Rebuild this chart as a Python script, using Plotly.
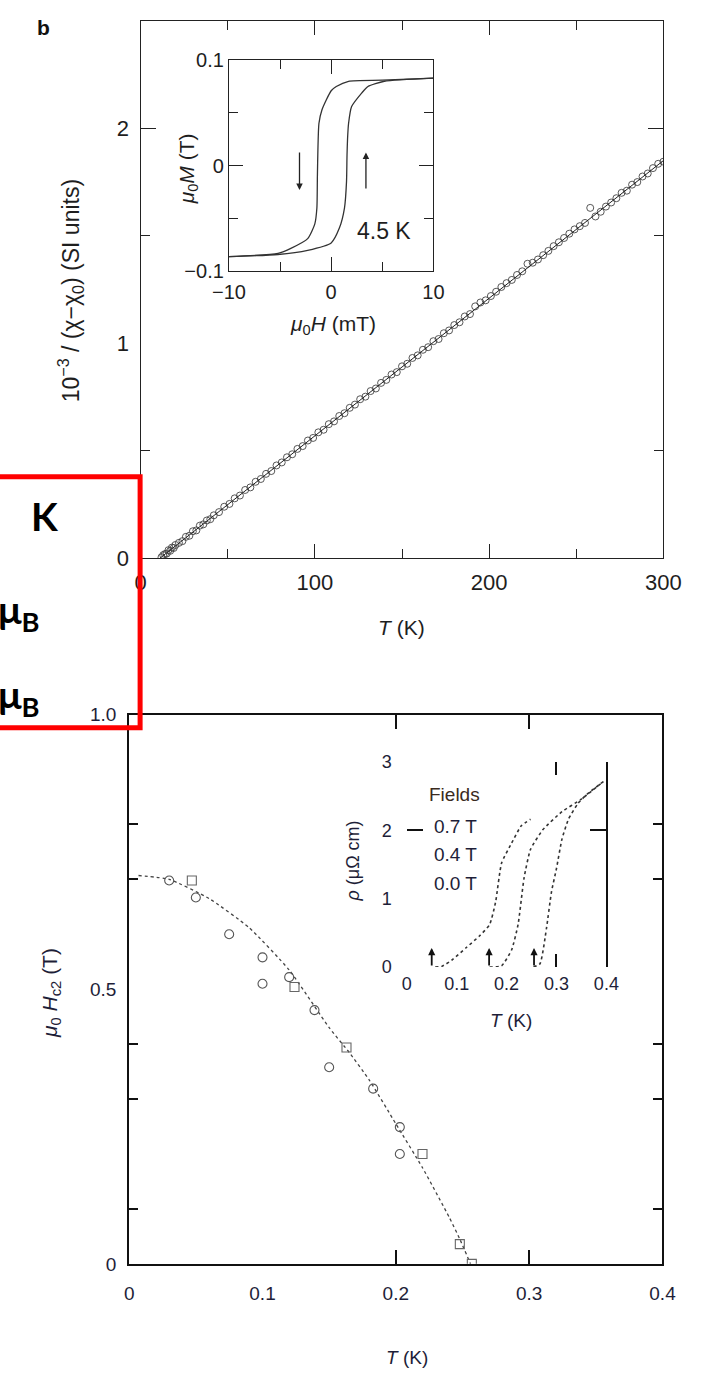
import plotly.graph_objects as go

W, H = 709, 1382
def px(x): return x / W
def py(y): return 1 - y / H

# ---------------- data ----------------
cw_T = [12,13,14,15,16,17,18,19,20,22,24,26,28,30,32,34,36,38,40,42,
        45,48,51,54,57,60,63,66,69,72,75,78,81,84,87,90,93,96,99,102,105,108,111,114,117,120,
        123,126,129,132,135,138,141,144,147,150,153,156,159,162,165,168,171,174,177,180,183,186,
        189,192,195,198,201,204,207,210,213,216,219,222,225,228,231,234,237,240,243,246,249,252,
        255,258,261,264,267,270,273,276,279,282,285,288,291,294,297,300]
cw_y = [0.005,0.015,0.020,0.022,0.038,0.035,0.050,0.048,0.062,0.072,0.080,0.100,0.105,0.126,0.130,
        0.152,0.158,0.176,0.182,0.200,
        0.215,0.240,0.253,0.279,0.292,0.318,0.330,0.356,0.369,0.393,0.406,0.432,0.446,0.470,0.484,
        0.509,0.522,0.548,0.560,0.586,0.598,0.624,0.637,0.662,0.675,0.700,0.715,0.740,0.752,0.778,
        0.790,0.816,0.830,0.855,0.866,0.893,0.905,0.932,0.944,0.970,0.982,1.010,1.020,1.047,1.060,
        1.085,1.098,1.125,1.136,1.172,1.190,1.200,1.220,1.240,1.262,1.280,1.295,1.318,1.335,1.370,
        1.375,1.390,1.410,1.430,1.452,1.470,1.490,1.510,1.530,1.545,1.560,1.630,1.590,1.612,1.636,
        1.655,1.675,1.700,1.710,1.738,1.750,1.776,1.790,1.815,1.835,1.845]
fit_T = [11, 300]
fit_y = [0.0, 1.85]

desc_H = [10, 5, 1.7, 0.5, 0, -0.9, -1.2, -1.3, -1.35, -1.4, -1.6, -2.3, -3.9, -5.2, -10]
desc_M = [0.083, 0.081, 0.080, 0.075, 0.071, 0.053, 0.040, 0.015, -0.010, -0.040, -0.055, -0.069, -0.078, -0.083, -0.086]
asc_H = [-10, -5.2, -2.3, 0, 0.8, 1.3, 1.5, 1.55, 1.6, 1.7, 2.0, 3.0, 3.6, 5.2, 10]
asc_M = [-0.086, -0.084, -0.080, -0.073, -0.059, -0.040, -0.015, 0.010, 0.025, 0.040, 0.056, 0.069, 0.075, 0.080, 0.083]

circ_T = [0.030, 0.050, 0.075, 0.100, 0.100, 0.120, 0.139, 0.150, 0.183, 0.203, 0.203]
circ_H = [0.698, 0.667, 0.600, 0.558, 0.510, 0.522, 0.462, 0.358, 0.319, 0.249, 0.200]
sq_T = [0.047, 0.124, 0.163, 0.220, 0.248, 0.257]
sq_H = [0.698, 0.504, 0.394, 0.200, 0.036, 0.000]
hc2_T = [0.007, 0.03, 0.06, 0.09, 0.12, 0.15, 0.165, 0.18, 0.20, 0.22, 0.24, 0.248, 0.256]
hc2_H = [0.707, 0.700, 0.665, 0.612, 0.535, 0.430, 0.385, 0.335, 0.255, 0.175, 0.085, 0.045, 0.0]

rho07_T = [0.057, 0.07, 0.09, 0.12, 0.145, 0.166, 0.178, 0.19, 0.21, 0.229, 0.248]
rho07 = [0.0, 0.01, 0.10, 0.29, 0.45, 0.62, 0.95, 1.52, 1.81, 2.06, 2.16]
rho04_T = [0.166, 0.19, 0.21, 0.223, 0.235, 0.248, 0.273, 0.311, 0.349, 0.394]
rho04 = [0.0, 0.02, 0.25, 0.62, 1.30, 1.72, 2.01, 2.27, 2.45, 2.71]
rho00_T = [0.254, 0.267, 0.28, 0.29, 0.30, 0.311, 0.324, 0.343, 0.362, 0.394]
rho00 = [0.0, 0.05, 0.57, 1.10, 1.44, 1.87, 2.16, 2.39, 2.53, 2.71]
arrow_T = [0.05, 0.165, 0.255]
field_labels = ["0.7 T", "0.4 T", "0.0 T"]

FONT = "Liberation Sans, Arial, sans-serif"
TC = "#1e1e1e"
BC = "#1e1e38"

fig = go.Figure()
fig.add_trace(go.Scatter(x=cw_T, y=cw_y, mode="markers", xaxis="x", yaxis="y",
                         marker=dict(symbol="circle-open", size=7, color="#444", line=dict(width=0.9))))
fig.add_trace(go.Scatter(x=fit_T, y=fit_y, mode="lines", xaxis="x", yaxis="y",
                         line=dict(color="#222", width=1)))
fig.add_trace(go.Scatter(x=[None], y=[None], xaxis="x", yaxis="y2", showlegend=False))
fig.add_trace(go.Scatter(x=desc_H, y=desc_M, mode="lines", xaxis="x3", yaxis="y3",
                         line=dict(color="#333", width=1.3, shape="spline", smoothing=0.6)))
fig.add_trace(go.Scatter(x=asc_H, y=asc_M, mode="lines", xaxis="x3", yaxis="y3",
                         line=dict(color="#333", width=1.3, shape="spline", smoothing=0.6)))
fig.add_trace(go.Scatter(x=hc2_T, y=hc2_H, mode="lines", xaxis="x4", yaxis="y4",
                         line=dict(color="#444", width=1.3, dash="dot", shape="spline", smoothing=0.5)))
fig.add_trace(go.Scatter(x=circ_T, y=circ_H, mode="markers", xaxis="x4", yaxis="y4",
                         marker=dict(symbol="circle-open", size=9, color="#555", line=dict(width=1.1))))
fig.add_trace(go.Scatter(x=sq_T, y=sq_H, mode="markers", xaxis="x4", yaxis="y4",
                         marker=dict(symbol="square-open", size=9, color="#666", line=dict(width=1.1))))
fig.add_trace(go.Scatter(x=[None], y=[None], xaxis="x5", yaxis="y4", showlegend=False))
fig.add_trace(go.Scatter(x=[None], y=[None], xaxis="x4", yaxis="y5", showlegend=False))
for tt, rr in [(rho07_T, rho07), (rho04_T, rho04), (rho00_T, rho00)]:
    fig.add_trace(go.Scatter(x=tt, y=rr, mode="lines", xaxis="x6", yaxis="y6",
                             line=dict(color="#333", width=1.6, dash="dot", shape="spline", smoothing=0.5)))
fig.add_trace(go.Scatter(x=[None], y=[None], xaxis="x7", yaxis="y6", showlegend=False))
fig.add_trace(go.Scatter(x=[None], y=[None], xaxis="x6", yaxis="y7", showlegend=False))
fig.add_trace(go.Scatter(x=[None], y=[None], xaxis="x6", yaxis="y8", showlegend=False))

common = dict(showgrid=False, zeroline=False, fixedrange=True)
tf_top = dict(family=FONT, size=22, color=TC)
tf_in = dict(family=FONT, size=20, color=TC)
tf_bot = dict(family=FONT, size=19, color=BC)
tf_bin = dict(family=FONT, size=18, color=BC)

layout_axes = dict(
    xaxis=dict(domain=[px(130), px(680)], range=[0, 300], anchor="y", tickvals=[0, 100, 200, 300],
               ticks="inside", ticklen=14, tickcolor="#222", tickwidth=1.3, mirror="ticks",
               showline=True, linecolor="#222", linewidth=1.3, tickfont=tf_top, ticklabelstandoff=4,
               minor=dict(dtick=50, ticks="inside", ticklen=9, tickcolor="#222", tickwidth=1.3), **common),
    yaxis=dict(domain=[py(557), py(10)], range=[0, 2.5], anchor="x", tickvals=[0, 1, 2],
               ticks="", showline=True, mirror=True, linecolor="#222", linewidth=1.3,
               tickfont=tf_top, ticklabelstandoff=6, **common),
    yaxis2=dict(overlaying="y", anchor="x", range=[0, 2.5], tickvals=[2], ticks="inside", ticklen=15,
                tickcolor="#222", tickwidth=1.3, mirror="ticks", showline=False, showticklabels=False,
                minor=dict(tickvals=[0.5, 1.5], ticks="inside", ticklen=9, tickcolor="#222", tickwidth=1.3),
                **common),
    xaxis3=dict(domain=[px(223), px(438)], range=[-10, 10], anchor="y3", tickvals=[-10, 0, 10],
                ticktext=["\u221210", "0", "10"], ticks="inside", ticklen=14, tickcolor="#222", tickwidth=1.3,
                mirror="ticks", showline=True, linecolor="#222", linewidth=1.3, tickfont=tf_in,
                ticklabelstandoff=2,
                minor=dict(dtick=5, ticks="inside", ticklen=9, tickcolor="#222", tickwidth=1.3), **common),
    yaxis3=dict(domain=[py(265), py(50)], range=[-0.1, 0.1], anchor="x3", tickvals=[-0.1, 0, 0.1],
                ticktext=["\u22120.1", "0", "0.1"], ticks="inside", ticklen=14, tickcolor="#222", tickwidth=1.3,
                mirror="ticks", showline=True, linecolor="#222", linewidth=1.3, tickfont=tf_in,
                ticklabelstandoff=0,
                minor=dict(dtick=0.05, ticks="inside", ticklen=9, tickcolor="#222", tickwidth=1.3), **common),
    xaxis4=dict(domain=[px(118), px(679)], range=[0, 0.4], anchor="y4", tickvals=[0, 0.1, 0.2, 0.3, 0.4],
                ticktext=["0", "0.1", "0.2", "0.3", "0.4"], ticks="", showline=True, mirror=True,
                linecolor="#111", linewidth=2, tickfont=tf_bot, ticklabelstandoff=11, **common),
    xaxis5=dict(overlaying="x4", anchor="y4", range=[0, 0.4], tickvals=[0.2, 0.3], ticks="inside",
                ticklen=14, tickcolor="#111", tickwidth=2, mirror="ticks", showline=False,
                showticklabels=False, **common),
    yaxis4=dict(domain=[py(1275), py(716)], range=[0, 1.0], anchor="x4", tickvals=[0, 0.5, 1.0],
                ticktext=["0", "0.5", "1.0"], ticks="", showline=True, mirror=True, linecolor="#111",
                linewidth=2, tickfont=tf_bot, ticklabelstandoff=7, **common),
    yaxis5=dict(overlaying="y4", anchor="x4", range=[0, 1.0], tickvals=[0.1, 0.3, 0.4, 0.7, 0.8],
                ticks="inside", ticklen=9, tickcolor="#111", tickwidth=2, mirror="ticks", showline=False,
                showticklabels=False, **common),
    xaxis6=dict(domain=[px(410), px(620)], range=[0, 0.4], anchor="y6", tickvals=[0, 0.1, 0.2, 0.3, 0.4],
                ticktext=["0", "0.1", "0.2", "0.3", "0.4"], ticks="", showline=False, tickfont=tf_bin,
                ticklabelstandoff=4, **common),
    xaxis7=dict(overlaying="x6", anchor="y6", range=[0, 0.4], tickvals=[0.3], ticks="inside", ticklen=13,
                tickcolor="#111", tickwidth=2, mirror="ticks", showline=False, showticklabels=False, **common),
    yaxis6=dict(domain=[py(973), py(764)], range=[0, 3], anchor="x6", tickvals=[0, 1, 2, 3],
                ticks="", showline=False, tickfont=tf_bin, ticklabelstandoff=14, **common),
    yaxis7=dict(overlaying="y6", anchor="x6", range=[0, 3], tickvals=[2], ticks="inside", ticklen=16,
                tickcolor="#111", tickwidth=2, mirror="ticks", showline=False, showticklabels=False, **common),
    yaxis8=dict(overlaying="y6", anchor="x6", side="right", range=[0, 3], ticks="", showline=True,
                linecolor="#111", linewidth=2, showticklabels=False, **common),
)

ann = []
def txt(x, y, text, size, color, angle=0, xanchor="center", yanchor="middle", family=FONT):
    ann.append(dict(x=px(x), y=py(y), xref="paper", yref="paper", text=text, showarrow=False,
                    textangle=angle, xanchor=xanchor, yanchor=yanchor,
                    font=dict(family=family, size=size, color=color)))

txt(28, 17, "<b>b</b>", 21, "#111")
txt(404, 627, "<i>T</i> (K)", 21, TC)
txt(56, 285, "10<sup>\u22123</sup> / (\u03c7\u2212\u03c7<sub>0</sub>) (SI units)", 23, TC, angle=-90)
txt(332, 320, "<i>\u03bc</i><sub>0</sub><i>H</i> (mT)", 21, TC)
txt(180, 161, "<i>\u03bc</i><sub>0</sub><i>M</i> (T)", 21, TC, angle=-90)
txt(386, 224, "4.5 K", 23, TC)

txt(410, 1370, "<i>T</i> (K)", 19, BC)
txt(35, 999, "<i>\u03bc</i><sub>0</sub> <i>H</i><sub>c2</sub> (T)", 21, BC, angle=-90)
txt(520, 1027, "<i>T</i> (K)", 19, BC)
txt(353, 865, "<i>\u03c1</i> (\u03bc\u03a9 cm)", 18, BC, angle=-90)
txt(460, 797, "Fields", 19, "#3a2a20")
for lab, yy in zip(field_labels, [830, 858, 888]):
    txt(461, yy, lab, 19, BC)

txt(13, 514, "<b>K</b>", 39, "#000", xanchor="left", family="Lato, Open Sans, sans-serif")
txt(26, 612, "<b>\u03bc<sub>B</sub></b>", 39, "#000", xanchor="right", family="Lato, Open Sans, sans-serif")
txt(26, 698, "<b>\u03bc<sub>B</sub></b>", 39, "#000", xanchor="right", family="Lato, Open Sans, sans-serif")

ann.append(dict(x=-3.1, y=-0.023, ax=-3.1, ay=0.014, xref="x3", yref="y3", axref="x3", ayref="y3",
                text="", showarrow=True, arrowhead=2, arrowsize=1, arrowwidth=1.3, arrowcolor="#222"))
ann.append(dict(x=3.4, y=0.0125, ax=3.4, ay=-0.023, xref="x3", yref="y3", axref="x3", ayref="y3",
                text="", showarrow=True, arrowhead=2, arrowsize=1, arrowwidth=1.3, arrowcolor="#222"))
for t in arrow_T:
    ann.append(dict(x=t, y=0.28, ax=t, ay=0.0, xref="x6", yref="y6", axref="x6", ayref="y6",
                    text="", showarrow=True, arrowhead=2, arrowsize=0.8, arrowwidth=1.8, arrowcolor="#111"))

shapes = [dict(type="rect", xref="paper", yref="paper", x0=-0.05, x1=px(129.5), y0=py(729.5), y1=py(474),
               line=dict(color="#ff0000", width=5), fillcolor="rgba(0,0,0,0)", layer="above")]

fig.update_layout(width=W, height=H, margin=dict(l=0, r=0, t=0, b=0), autosize=False,
                  paper_bgcolor="white", plot_bgcolor="white", showlegend=False,
                  annotations=ann, shapes=shapes, **layout_axes)

fig.write_html("out.html")
